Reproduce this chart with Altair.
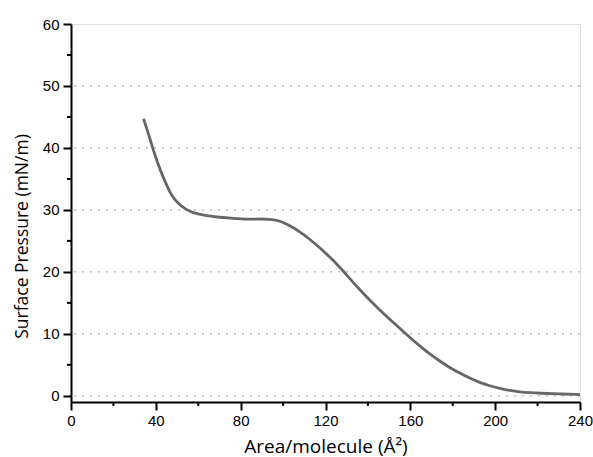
import altair as alt
import pandas as pd

# Surface pressure–area isotherm
area = [34.2, 36.5, 38.6, 41.0, 43.3, 45.5, 47.3, 50.5, 54.4, 58.0, 62.2, 66.0, 70.1, 74.0,
        78.0, 82.0, 85.8, 90.0, 93.7, 97.0, 99.9, 103.5, 107.8, 112.5, 117.3, 122.0, 126.7,
        131.5, 136.2, 141.0, 145.6, 150.3, 155.0, 159.7, 164.4, 169.2, 173.9, 178.6, 183.3,
        188.0, 192.7, 197.5, 202.2, 206.9, 211.6, 216.4, 221.1, 230.0, 240.0]
pressure = [44.7, 42.3, 39.9, 37.4, 35.4, 33.7, 32.4, 31.0, 30.0, 29.5, 29.2, 29.0, 28.8, 28.7,
            28.6, 28.5, 28.5, 28.55, 28.5, 28.35, 28.0, 27.4, 26.5, 25.3, 23.9, 22.4, 20.8,
            18.9, 17.1, 15.4, 13.85, 12.35, 10.9, 9.45, 8.05, 6.75, 5.6, 4.55, 3.65, 2.85,
            2.15, 1.6, 1.2, 0.85, 0.62, 0.5, 0.42, 0.3, 0.2]

grid_levels = [0, 10, 20, 30, 40, 50]
x_major = [0, 40, 80, 120, 160, 200, 240]
x_minor = [20, 60, 100, 140, 180, 220]
y_major = [0, 10, 20, 30, 40, 50, 60]
y_minor = [5, 15, 25, 35, 45, 55]

curve = pd.DataFrame({"area": area, "pressure": pressure})
grid = pd.DataFrame({"level": grid_levels})
xminor = pd.DataFrame({"v": x_minor})
yminor = pd.DataFrame({"v": y_minor})

W, H = 509, 378
xs = alt.Scale(domain=[0, 240], nice=False, zero=False)
ys = alt.Scale(domain=[-1, 60], nice=False, zero=False)

label_font = "Liberation Sans"
title_font = "Open Sans"

x_axis = alt.Axis(
    values=x_major, title="Area/molecule (Å²)", grid=False, labelFlush=False,
    domainColor="black", domainWidth=2, tickColor="black", tickWidth=2, tickSize=8,
    labelFont=label_font, labelFontSize=15, labelColor="black", labelPadding=3,
    titleFont=title_font, titleFontSize=19, titleFontWeight="normal", titleColor="black",
    titlePadding=9,
)
y_axis = alt.Axis(
    values=y_major, title="Surface Pressure (mN/m)", grid=False, labelFlush=False,
    domainColor="black", domainWidth=2, tickColor="black", tickWidth=2, tickSize=8,
    labelFont=label_font, labelFontSize=15, labelColor="black", labelPadding=4,
    titleFont=title_font, titleFontSize=17.5, titleFontWeight="normal", titleColor="black",
    titleAngle=270, titleAlign="center", titleBaseline="middle", titleX=-49, titleY=212,
)

gridlines = alt.Chart(grid).mark_rule(
    color="#bdbdbd", strokeDash=[2, 6], strokeWidth=1.5
).encode(y=alt.Y("level:Q", scale=ys, axis=y_axis))

minor_x = alt.Chart(xminor).mark_rule(color="black", strokeWidth=2).encode(
    x=alt.X("v:Q", scale=xs, axis=x_axis),
    y=alt.value(H),
    y2=alt.value(H + 4),
)
minor_y = alt.Chart(yminor).mark_rule(color="black", strokeWidth=2).encode(
    y=alt.Y("v:Q", scale=ys),
    x=alt.value(0),
    x2=alt.value(-4),
)

line = alt.Chart(curve).mark_line(
    color="#666666", strokeWidth=2.8, interpolate="basis", clip=True
).encode(
    x=alt.X("area:Q", scale=xs, axis=x_axis),
    y=alt.Y("pressure:Q", scale=ys, axis=y_axis),
)

chart = alt.layer(gridlines, minor_x, minor_y, line).properties(
    width=W, height=H,
    autosize=alt.AutoSizeParams(type="none"),
    padding={"left": 71, "top": 24, "right": 13, "bottom": 55},
).configure_view(stroke=None).configure(background="white")

chart.save("out.html", embed_options={"renderer": "svg", "actions": False})
